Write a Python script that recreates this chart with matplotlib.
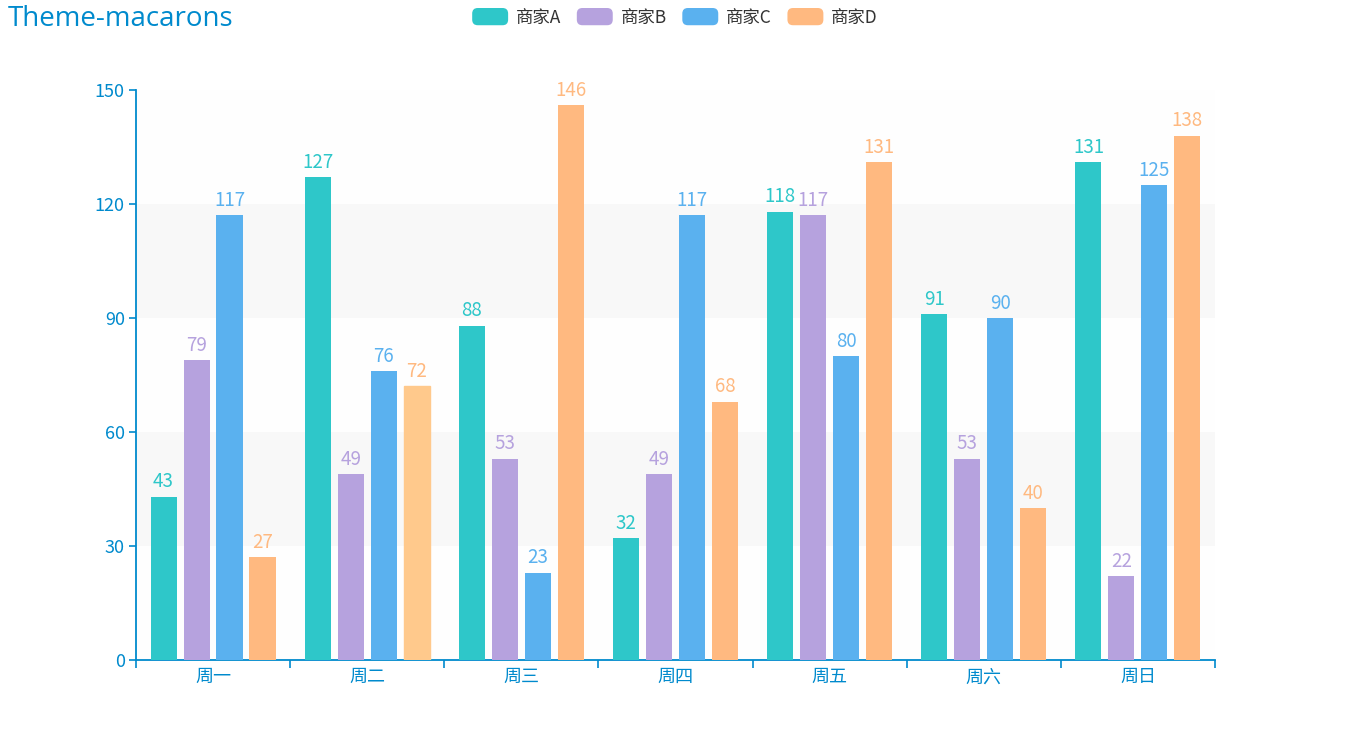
import numpy as np
import matplotlib
matplotlib.use("Agg")
from matplotlib import pyplot as plt
from matplotlib.patches import Patch, FancyBboxPatch
from matplotlib.legend_handler import HandlerPatch

plt.rcParams['font.family'] = ['Noto Sans CJK SC', 'DejaVu Sans']

days = ['周一', '周二', '周三', '周四', '周五', '周六', '周日']
sellers = ['商家A', '商家B', '商家C', '商家D']
values_a = [43, 127, 88, 32, 118, 91, 131]
values_b = [79, 49, 53, 49, 117, 53, 22]
values_c = [117, 76, 23, 117, 80, 90, 125]
values_d = [27, 72, 146, 68, 131, 40, 138]
colors = ['#2ec7c9', '#b6a2de', '#5ab1ef', '#ffb980']
axis_color = '#008acd'


class RoundHandler(HandlerPatch):
    """Legend swatch with rounded corners, like echarts."""

    def create_artists(self, legend, orig_handle, xdescent, ydescent,
                       width, height, fontsize, trans):
        p = FancyBboxPatch((-xdescent, -ydescent), width, height,
                           boxstyle='round,pad=0,rounding_size=4',
                           facecolor=orig_handle.get_facecolor(),
                           edgecolor='none', transform=trans)
        return [p]


fig = plt.figure(figsize=(13.5, 7.5), dpi=100)
ax = fig.add_axes([0.1007, 0.12, 0.7993, 0.76])

x = np.arange(len(days))
width = 0.169
step = 0.214
series = [values_a, values_b, values_c, values_d]
for k, (vals, col) in enumerate(zip(series, colors)):
    offs = (k - 1.5) * step
    bars = ax.bar(x + offs, vals, width=width, color=col, zorder=3)
    # 周二 商家D is drawn highlighted (hover) in the reference
    if k == 3:
        bars[1].set_color('#ffc98c')
    for xi, v in zip(x + offs, vals):
        ax.annotate(str(v), (xi, v), xytext=(0, 3), textcoords='offset points',
                    ha='center', va='bottom', color=col, fontsize=13.5, zorder=4)

# split areas
bands = ['#fefefe', '#f8f8f8']
for i, lo in enumerate(range(0, 150, 30)):
    ax.axhspan(lo, lo + 30, color=bands[i % 2], zorder=0, lw=0)

ax.set_xlim(-0.5, len(days) - 0.5)
ax.set_ylim(0, 150)
ax.set_yticks(range(0, 151, 30))
ax.set_xticks(np.arange(-0.5, len(days), 1.0))
ax.set_xticklabels([])
ax.set_xticks(x, minor=True)
ax.set_xticklabels(days, minor=True)
ax.tick_params(axis='x', which='minor', length=0, labelsize=13,
               labelcolor=axis_color, pad=6)
ax.tick_params(axis='x', which='major', length=6, width=1.2, color=axis_color,
               direction='out')
ax.tick_params(axis='y', length=5, width=1.2, color=axis_color,
               labelcolor=axis_color, labelsize=13, pad=3)

for s in ['top', 'right']:
    ax.spines[s].set_visible(False)
for s in ['left', 'bottom']:
    ax.spines[s].set_color(axis_color)
    ax.spines[s].set_linewidth(1.3)

fig.text(0.006, 0.975, 'Theme-macarons', color=axis_color, fontsize=20,
         ha='left', va='center', family=['Open Sans', 'DejaVu Sans'])

handles = [Patch(facecolor=c, edgecolor='none', label=s)
           for c, s in zip(colors, sellers)]
fig.legend(handles=handles, loc='center', bbox_to_anchor=(0.5, 0.977), ncol=4,
           frameon=False, handlelength=2.07, handleheight=1.15,
           handletextpad=0.45, columnspacing=0.9, fontsize=12.5,
           labelcolor='#333333', handler_map={Patch: RoundHandler()})

fig.savefig('out.png', dpi=100)
